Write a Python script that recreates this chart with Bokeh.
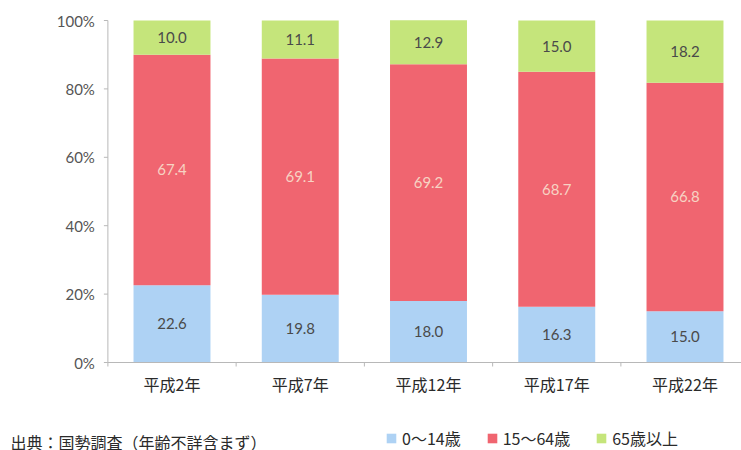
from bokeh.plotting import figure
from bokeh.models import ColumnDataSource, Range1d, Legend, LegendItem, Label
from bokeh.core.properties import value
from bokeh.embed import file_html
from bokeh.resources import INLINE

categories = ["平成2年", "平成7年", "平成12年", "平成17年", "平成22年"]
age_0_14 = [22.6, 19.8, 18.0, 16.3, 15.0]
age_15_64 = [67.4, 69.1, 69.2, 68.7, 66.8]
age_65_plus = [10.0, 11.1, 12.9, 15.0, 18.2]
series_names = ["0～14歳", "15～64歳", "65歳以上"]
y_ticks = [0, 20, 40, 60, 80, 100]
source_note = "出典：国勢調査（年齢不詳含まず）"

colors = ["#aed2f4", "#f06570", "#c5e57b"]
label_colors = ["#4a4a4a", "#f7d3c3", "#4a4a4a"]
axis_color = "#b8b8b8"
JP = "Noto Sans CJK JP"

# layout of the frame (covers the whole canvas): pixels per unit
PX_X = 128.25          # px per category
PX_Y = 3.42            # px per percent
X0_PX, Y0_PX = 171.5, 362.0   # position of first category centre / 0 %
W, H = 741, 450

xs = list(range(len(categories)))
src = ColumnDataSource(dict(x=xs, a=age_0_14, b=age_15_64, c=age_65_plus))

p = figure(width=W, height=H, output_backend="svg", toolbar_location=None,
           x_range=Range1d(-X0_PX / PX_X, (W - X0_PX) / PX_X),
           y_range=Range1d(-(H - Y0_PX) / PX_Y, Y0_PX / PX_Y),
           x_axis_type=None, y_axis_type=None,
           min_border=0, min_border_left=0, min_border_right=0,
           min_border_top=0, min_border_bottom=0)
p.outline_line_color = None
p.xgrid.grid_line_color = None
p.ygrid.grid_line_color = None

renderers = p.vbar_stack(["a", "b", "c"], x="x", width=0.6, source=src,
                         color=colors, line_color=None)

# segment value labels
bottoms = [0] * len(xs)
for vals, col in zip([age_0_14, age_15_64, age_65_plus], label_colors):
    mids = [b + v / 2 for b, v in zip(bottoms, vals)]
    ls = ColumnDataSource(dict(x=xs, y=mids, t=[f"{v:.1f}" for v in vals]))
    p.text(x="x", y="y", text="t", source=ls, text_align="center",
           text_baseline="middle", text_font_size="15px",
           text_font=value("Lato"), text_color=col)
    bottoms = [b + v for b, v in zip(bottoms, vals)]

# y axis (drawn in data space)
left = -0.5
p.segment(x0=[left], y0=[0], x1=[left], y1=[100], line_color=axis_color, line_width=1)
p.segment(x0=[left - 4 / PX_X] * len(y_ticks), y0=y_ticks,
          x1=[left] * len(y_ticks), y1=y_ticks, line_color=axis_color, line_width=1)
ytl = ColumnDataSource(dict(x=[left - 13 / PX_X] * len(y_ticks), y=y_ticks,
                            t=[f"{t}%" for t in y_ticks]))
p.text(x="x", y="y", text="t", source=ytl, text_align="right", text_baseline="middle",
       text_font=value("Lato"), text_font_size="15px", text_color="#555555")

# x axis
right = (W - X0_PX) / PX_X
p.segment(x0=[left], y0=[0], x1=[right], y1=[0], line_color=axis_color, line_width=1)
bounds = [i - 0.5 for i in range(len(categories) + 1)]
p.segment(x0=bounds, y0=[0] * len(bounds), x1=bounds, y1=[-4 / PX_Y] * len(bounds),
          line_color=axis_color, line_width=1)
xtl = ColumnDataSource(dict(x=xs, y=[-21 / PX_Y] * len(xs), t=categories))
p.text(x="x", y="y", text="t", source=xtl, text_align="center", text_baseline="middle",
       text_font=value(JP), text_font_size="16px", text_color="#2a2a2a")

# legend and source note at the bottom
legend = Legend(items=[LegendItem(label=n, renderers=[r]) for n, r in zip(series_names, renderers)],
                orientation="horizontal", location=(385, 0),
                label_text_font=JP, label_text_font_size="16px",
                label_text_color="#2a2a2a", glyph_width=12, glyph_height=12,
                spacing=25, label_standoff=5, padding=0, margin=0,
                border_line_color=None, background_fill_alpha=0)
p.add_layout(legend, "center")
p.add_layout(Label(x=10, y=9, x_units="screen", y_units="screen", text=source_note,
                   text_baseline="middle", text_font=JP, text_font_size="16px",
                   text_color="#2a2a2a"))

open("out.html", "w").write(file_html(p, INLINE))
